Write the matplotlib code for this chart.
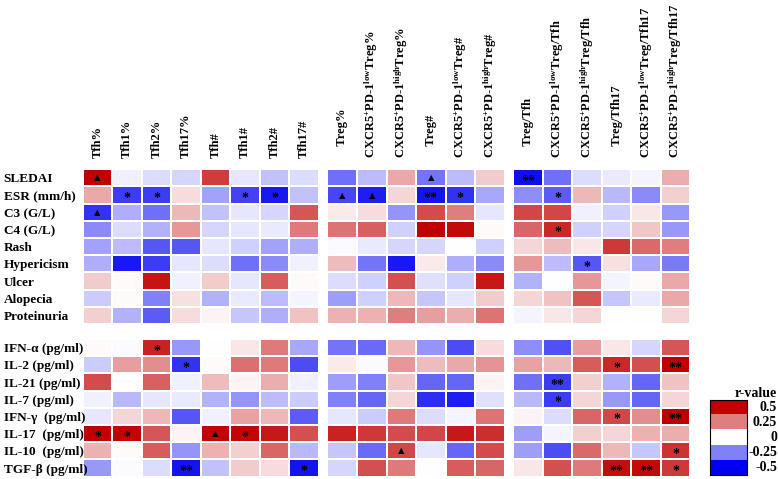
import numpy as np
import matplotlib
matplotlib.use("Agg")
import matplotlib.pyplot as plt
from matplotlib.colors import LinearSegmentedColormap

plt.rcParams["font.family"] = ["Liberation Serif", "DejaVu Sans"]
plt.rcParams["font.weight"] = "bold"
plt.rcParams["mathtext.fontset"] = "custom"
plt.rcParams["mathtext.rm"] = "Liberation Serif:bold"
plt.rcParams["mathtext.it"] = "Liberation Serif:bold:italic"
plt.rcParams["mathtext.bf"] = "Liberation Serif:bold"

# row labels
clinical = ["SLEDAI", "ESR (mm/h)", "C3 (G/L)", "C4 (G/L)", "Rash", "Hypericism",
            "Ulcer", "Alopecia", "Proteinuria"]
cytokines = ["IFN-α (pg/ml)", "IL-2 (pg/ml)", "IL-21 (pg/ml)", "IL-7 (pg/ml)",
             "IFN-γ  (pg/ml)", "IL-17  (pg/ml)", "IL-10  (pg/ml)", "TGF-β (pg/ml)"]

# column labels
tfh_cols = ["Tfh%", "Tfh1%", "Tfh2%", "Tfh17%", "Tfh#", "Tfh1#", "Tfh2#", "Tfh17#"]
treg_cols = ["    Treg%", r"CXCR5$^{+}$PD-1$^{\mathrm{low}}$Treg%",
             r"CXCR5$^{+}$PD-1$^{\mathrm{high}}$Treg%", "    Treg#",
             r"CXCR5$^{+}$PD-1$^{\mathrm{low}}$Treg#", r"CXCR5$^{+}$PD-1$^{\mathrm{high}}$Treg#"]
ratio_cols = ["    Treg/Tfh", r"CXCR5$^{+}$PD-1$^{\mathrm{low}}$Treg/Tfh",
              r"CXCR5$^{+}$PD-1$^{\mathrm{high}}$Treg/Tfh", "    Treg/Tfh17",
              r"CXCR5$^{+}$PD-1$^{\mathrm{low}}$Treg/Tfh17",
              r"CXCR5$^{+}$PD-1$^{\mathrm{high}}$Treg/Tfh17"]

# r-values (estimated from the colours)
clinical_values = [
    [0.5, -0.03, -0.07, -0.08, 0.38, -0.05, -0.12, -0.07, -0.28, -0.13, 0.17, -0.27, -0.13, 0.1, -0.47, -0.28, -0.07, -0.04, -0.02, 0.16],
    [0.17, -0.38, -0.38, 0.07, -0.18, -0.37, -0.45, -0.12, -0.36, -0.44, 0.08, -0.46, -0.4, -0.17, -0.22, -0.32, 0.14, -0.14, -0.23, 0.09],
    [-0.4, -0.16, -0.28, 0.14, -0.12, -0.05, -0.08, 0.33, 0.04, 0.07, -0.21, 0.35, 0.25, -0.05, 0.36, 0.36, -0.03, -0.09, 0.05, -0.2],
    [-0.23, -0.07, -0.15, 0.2, -0.08, -0.05, -0.04, 0.26, 0.27, 0.31, -0.09, 0.5, 0.48, 0.01, 0.3, 0.42, -0.09, -0.08, 0.11, -0.2],
    [-0.18, -0.13, -0.33, -0.33, -0.05, -0.09, -0.18, -0.16, -0.01, -0.04, -0.08, -0.08, 0.0, -0.09, 0.08, 0.13, 0.05, 0.39, 0.29, 0.25],
    [-0.16, -0.45, -0.38, -0.05, -0.07, -0.28, -0.23, -0.03, 0.13, -0.27, -0.45, 0.04, -0.16, -0.23, 0.2, -0.13, -0.33, 0.06, -0.17, -0.26],
    [0.1, 0.01, 0.46, -0.03, 0.1, -0.05, 0.32, 0.01, -0.07, -0.09, 0.34, -0.06, -0.09, 0.45, -0.15, 0.0, 0.2, -0.02, 0.01, 0.17],
    [-0.1, 0.01, -0.25, 0.06, -0.15, -0.04, -0.13, -0.02, -0.19, -0.09, 0.14, -0.11, -0.05, 0.1, 0.08, 0.12, 0.33, -0.11, -0.04, 0.17],
    [0.09, -0.15, -0.32, 0.07, 0.02, -0.11, -0.16, 0.12, 0.15, 0.15, 0.25, 0.19, 0.16, 0.27, -0.02, 0.05, 0.08, 0.0, 0.0, 0.08],
]
cytokine_values = [
    [0.01, -0.01, 0.43, -0.2, 0.0, 0.05, 0.26, -0.17, -0.27, -0.29, 0.14, -0.21, -0.35, 0.07, -0.22, -0.34, 0.19, 0.05, -0.08, 0.33],
    [-0.1, 0.19, 0.22, -0.4, 0.01, 0.28, 0.26, -0.35, 0.04, -0.01, 0.2, 0.13, 0.17, 0.21, 0.18, 0.14, 0.32, 0.42, 0.34, 0.5],
    [0.35, 0.0, 0.31, -0.03, 0.13, 0.02, 0.16, -0.03, -0.19, -0.25, 0.11, -0.3, -0.3, 0.02, -0.28, -0.38, 0.09, -0.15, -0.3, 0.12],
    [-0.03, -0.14, -0.05, -0.04, -0.15, -0.21, -0.13, -0.1, -0.25, -0.3, 0.08, -0.41, -0.44, -0.06, -0.14, -0.38, 0.08, -0.2, -0.3, 0.08],
    [-0.05, 0.08, 0.14, -0.33, -0.03, 0.18, 0.14, -0.32, -0.05, -0.1, 0.26, -0.07, -0.02, 0.27, 0.02, -0.07, 0.3, 0.36, 0.22, 0.5],
    [0.5, 0.49, 0.33, 0.02, 0.49, 0.49, 0.45, 0.34, 0.43, 0.39, 0.35, 0.36, 0.45, 0.41, -0.19, -0.02, 0.09, 0.08, 0.15, 0.16],
    [0.15, 0.01, 0.32, -0.21, 0.15, 0.09, 0.3, -0.14, -0.11, -0.29, 0.36, -0.05, -0.3, 0.35, -0.19, -0.35, 0.29, 0.14, -0.11, 0.4],
    [-0.2, -0.01, -0.07, -0.46, -0.12, 0.1, 0.07, -0.46, -0.08, 0.34, 0.26, 0.0, 0.32, 0.3, 0.05, 0.34, 0.26, 0.47, 0.48, 0.39],
]

# significance marks: (row, column, mark), rows counted over both blocks
marks = [
    (0, 0, "▲"), (0, 11, "▲"), (0, 14, "**"),
    (1, 1, "*"), (1, 2, "*"), (1, 5, "*"), (1, 6, "*"), (1, 8, "▲"), (1, 9, "▲"),
    (1, 11, "**"), (1, 12, "*"), (1, 15, "*"),
    (2, 0, "▲"), (3, 15, "*"), (5, 16, "*"),
    (9, 2, "*"), (10, 3, "*"), (10, 17, "*"), (10, 19, "**"),
    (11, 15, "**"), (12, 15, "*"), (13, 17, "*"), (13, 19, "**"),
    (14, 0, "*"), (14, 1, "*"), (14, 4, "▲"), (14, 5, "*"),
    (15, 10, "▲"), (15, 19, "*"),
    (16, 3, "**"), (16, 7, "*"), (16, 17, "**"), (16, 18, "**"), (16, 19, "*"),
]

cbar_values = [0.5, 0.25, 0, -0.25, -0.5]
cbar_labels = ["0.5", "0.25", "0", "-0.25", "-0.5"]

cmap = LinearSegmentedColormap.from_list("rv", ["#0000f0", "#ffffff", "#c00000"])
col_gap = 0.29
row_gap = 0.87
col_blocks = [(0, 8), (8, 14), (14, 20)]
row_blocks = [(clinical_values, 0), (cytokine_values, 9)]

fig = plt.figure(figsize=(7.78, 4.79), dpi=100)
ax = fig.add_axes([0.1063, 0.0048, 0.781, 0.6418])

x_pos = []
for b, (c0, c1) in enumerate(col_blocks):
    x_pos += [j + b * col_gap for j in range(c0, c1)]
y_pos = [i for i in range(9)] + [i + row_gap for i in range(9, 17)]

for values, r0 in row_blocks:
    rb = 0 if r0 == 0 else 1
    block = np.array(values)
    for b, (c0, c1) in enumerate(col_blocks):
        xe = np.arange(c0, c1 + 1) + b * col_gap
        ye = np.arange(r0, r0 + len(values) + 1) + rb * row_gap
        ax.pcolormesh(xe, ye, block[:, c0:c1], cmap=cmap, vmin=-0.5, vmax=0.5,
                      edgecolor="white", linewidth=0.3)

for r, c, m in marks:
    x = x_pos[c] + 0.5
    y = y_pos[r] + 0.5
    if m == "▲":
        ax.text(x, y, m, ha="center", va="center", fontsize=6, family=["DejaVu Sans"])
    else:
        ax.text(x, y + 0.2, m, ha="center", va="center", fontsize=10)

ax.set_xlim(0, 20 + 2 * col_gap)
ax.set_ylim(17 + row_gap, 0)
ax.xaxis.tick_top()
ax.set_xticks([x + 0.5 for x in x_pos])
ax.set_xticklabels(tfh_cols + treg_cols + ratio_cols, rotation=90, fontsize=9)
ax.set_yticks([y + 0.5 for y in y_pos])
ax.set_yticklabels(clinical + cytokines, fontsize=9.5, ha="left")
ax.tick_params(length=0)
ax.tick_params(axis="x", pad=8)
ax.tick_params(axis="y", pad=57)
for s in ax.spines.values():
    s.set_visible(False)

# discrete r-value legend
cax = fig.add_axes([0.9126, 0.00835, 0.0476, 0.1566])
cax.imshow(np.array(cbar_values).reshape(-1, 1), cmap=cmap, vmin=-0.5, vmax=0.5,
           aspect="auto")
cax.set_xticks([])
cax.set_yticks([])
for s in cax.spines.values():
    s.set_linewidth(0.8)
for k, lab in enumerate(cbar_labels):
    cax.text(1.81, k, lab, transform=cax.get_yaxis_transform(), ha="right",
             va="center", fontsize=10)
fig.text(0.998, 0.179, "r-value", ha="right", va="center", fontsize=10)

fig.savefig("out.png", dpi=100)
